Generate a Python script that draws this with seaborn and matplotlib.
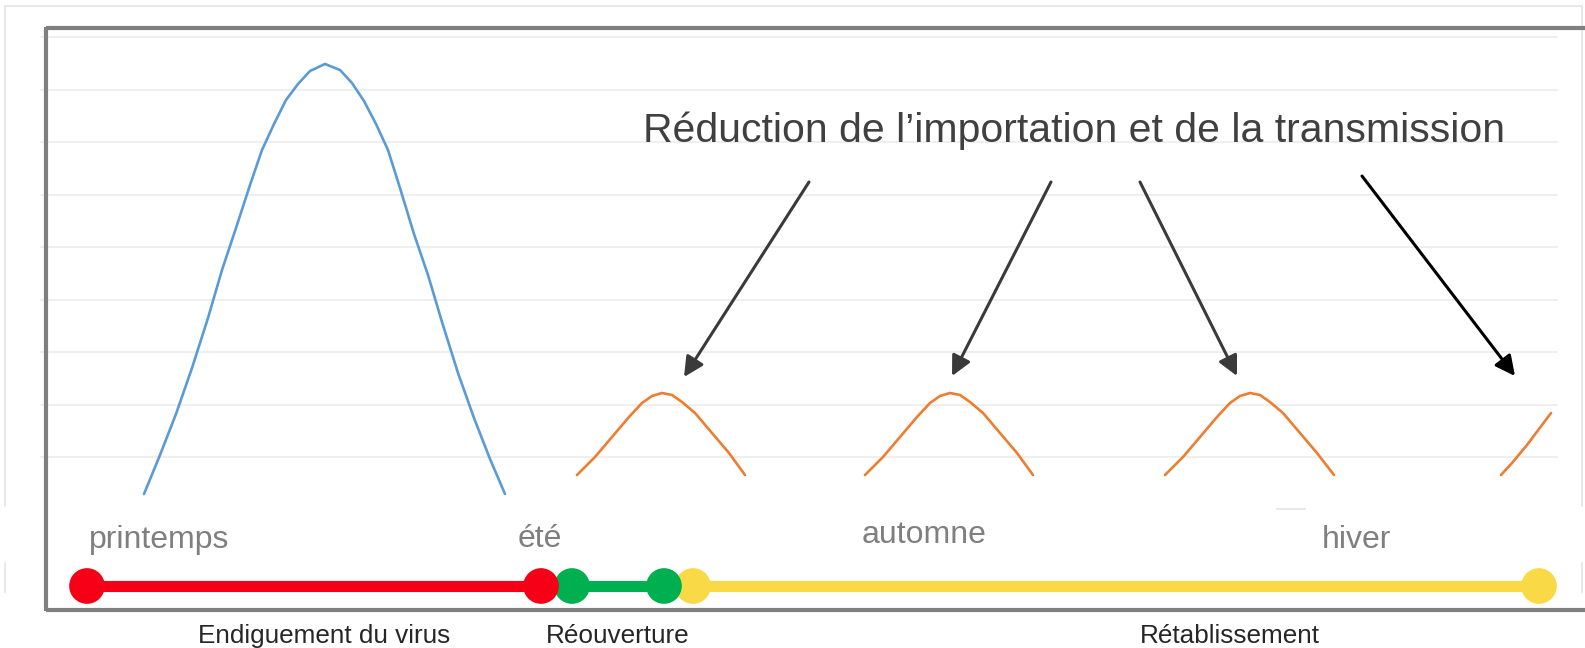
import seaborn as sns
import matplotlib.pyplot as plt

sns.set_theme(style="white")
plt.rcParams["font.family"] = ["Liberation Sans", "DejaVu Sans"]

# canvas units: one unit = one pixel of the 1585x648 picture, y grows downwards
# big first wave
blue_x = [144, 160, 176, 192, 208, 222, 236, 250, 262, 274, 286, 298, 310, 325,
          340, 352, 364, 376, 388, 400, 414, 428, 442, 458, 474, 490, 505]
blue_y = [494, 455, 414, 368, 318, 270, 228, 185, 150, 124, 100, 84, 71, 64,
          70, 83, 101, 124, 150, 188, 234, 275, 322, 373, 418, 459, 494]

# smaller waves after the reopening
wave1_x = [577, 595, 612, 629, 642, 652, 662, 672, 682, 695, 712, 729, 745]
wave1_y = [475, 457, 437, 417, 403, 396, 393, 395, 402, 413, 433, 453, 475]
wave2_x = [865, 883, 900, 917, 930, 940, 950, 960, 970, 983, 1000, 1017, 1033]
wave2_y = [475, 457, 437, 417, 403, 396, 393, 395, 402, 413, 433, 453, 475]
wave3_x = [1165, 1183, 1200, 1217, 1230, 1240, 1250, 1260, 1270, 1283, 1300, 1317, 1334]
wave3_y = [475, 457, 437, 417, 403, 396, 393, 395, 402, 413, 433, 453, 475]
wave4_x = [1501, 1512, 1527, 1551]
wave4_y = [475, 463, 445, 413]

grid_y = [37, 89.5, 142, 194.5, 247, 299.5, 352, 404.5, 457]

season_names = ["printemps", "été", "automne", "hiver"]
season_x = [89, 518, 862, 1322]
season_y = [548, 547, 543, 548]

phase_names = ["Endiguement du virus", "Réouverture", "Rétablissement"]
phase_start = [87, 572, 693]
phase_end = [541, 664, 1539]
phase_label_x = [324, 618, 1230]
phase_colors = ["#f50016", "#00b050", "#fad947"]
timeline_y = 586

title_text = "Réduction de l’importation et de la transmission"
arrow_from = [(809, 182), (1051, 182), (1140, 182), (1362, 176)]
arrow_to = [(684, 377), (952, 376), (1237, 376), (1515, 376)]
arrow_colors = ["#3a3a3a", "#3a3a3a", "#3a3a3a", "#000000"]

fig = plt.figure(figsize=(15.85, 6.48), dpi=100)
ax = fig.add_axes([0, 0, 1, 1])
ax.set_xlim(0, 1585)
ax.set_ylim(648, 0)
ax.axis("off")

# faint outer border
light = "#e8e8e8"
ax.plot([5, 1582], [6, 6], color=light, lw=1.5)
for bx in [5, 1582]:
    ax.plot([bx, bx], [6, 506], color=light, lw=1.5)
    ax.plot([bx, bx], [563, 592], color=light, lw=1.5)
ax.plot([1277, 1305], [509, 509], color=light, lw=1.5)

# gridlines
for gy in grid_y:
    ax.plot([41, 1557], [gy, gy], color="#efefef", lw=1.5, zorder=1)

# dark frame (open on the right)
frame = "#7f7f7f"
ax.plot([46, 1585], [28, 28], color=frame, lw=3, solid_capstyle="butt")
ax.plot([46, 46], [27, 611], color=frame, lw=3, solid_capstyle="butt")
ax.plot([46, 1585], [610, 610], color=frame, lw=3, solid_capstyle="butt")

# curves
sns.lineplot(x=blue_x, y=blue_y, sort=False, estimator=None, color="#5b9bd5",
             lw=1.9, ax=ax, zorder=3, solid_joinstyle="round")
for wx, wy in [(wave1_x, wave1_y), (wave2_x, wave2_y),
               (wave3_x, wave3_y), (wave4_x, wave4_y)]:
    sns.lineplot(x=wx, y=wy, sort=False, estimator=None, color="#ed7d31",
                 lw=1.9, ax=ax, zorder=3, solid_joinstyle="round")

# annotation
ax.text(643, 131, title_text, fontsize=29.5, color="#404040", ha="left", va="center")
for (sx, sy), (ex, ey), c in zip(arrow_from, arrow_to, arrow_colors):
    ax.annotate("", xy=(ex, ey), xytext=(sx, sy),
                arrowprops=dict(arrowstyle="-|>,head_length=0.6,head_width=0.3",
                                color=c, lw=2.2, mutation_scale=20,
                                shrinkA=0, shrinkB=0))

# seasons
for name, sx, sy in zip(season_names, season_x, season_y):
    ax.text(sx, sy, name, fontsize=23, color="#7f7f7f", ha="left", va="baseline")

# timeline of phases
dot_order = [2, 1, 0]  # yellow under green under red
for i in range(3):
    ax.plot([phase_start[i], phase_end[i]], [timeline_y, timeline_y],
            color=phase_colors[i], lw=8, solid_capstyle="butt", zorder=4)
for rank, i in enumerate(dot_order):
    sns.scatterplot(x=[phase_start[i], phase_end[i]], y=[timeline_y, timeline_y],
                    s=660, color=phase_colors[i], edgecolor="none",
                    ax=ax, zorder=5 + rank, legend=False)
for name, lx in zip(phase_names, phase_label_x):
    ax.text(lx, 643, name, fontsize=18.8, color="#262626",
            ha="center", va="baseline")

fig.savefig("out.png", dpi=100)
